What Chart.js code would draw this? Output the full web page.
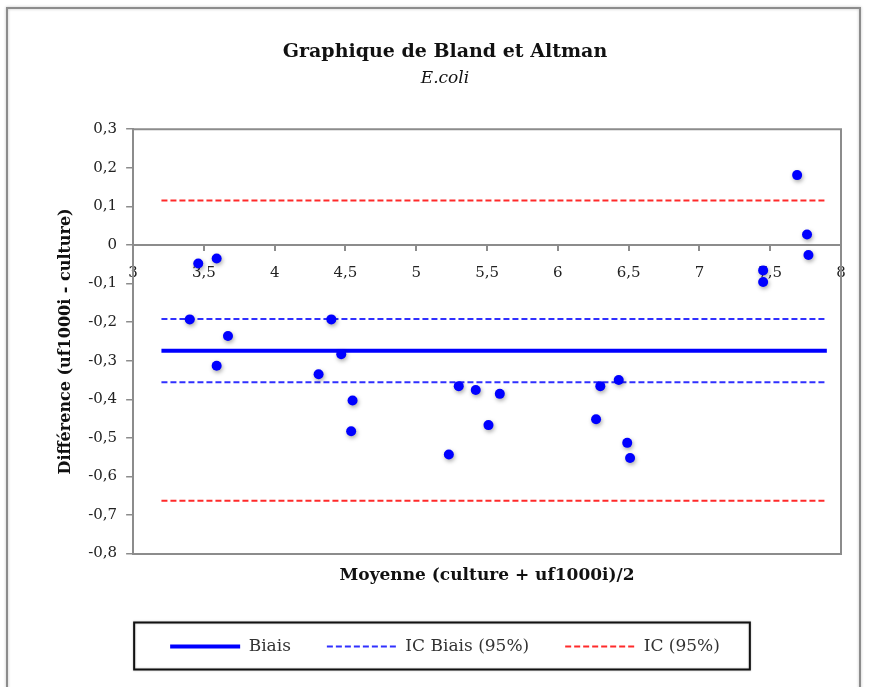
<!DOCTYPE html>
<html>
<head>
<meta charset="utf-8">
<script src="https://cdn.jsdelivr.net/npm/chart.js@4"></script>
<style>
  html, body { margin: 0; padding: 0; background: #fff; }
  canvas { display: block; }
</style>
</head>
<body>
<canvas id="c" width="869" height="687"></canvas>
<script>
// Mean of the two methods (x) and difference uf1000i - culture (y), log units
const xMeans = [3.46, 3.59, 3.40, 4.40, 3.67, 3.59, 4.31, 4.47, 4.55, 4.54,
                5.23, 5.30, 5.42, 5.51, 5.59, 6.30, 6.43, 6.27, 6.49, 6.51,
                7.69, 7.76, 7.77, 7.45, 7.45];
const yDiffs = [-0.048, -0.035, -0.193, -0.193, -0.236, -0.313, -0.335, -0.283, -0.403, -0.483,
                -0.543, -0.366, -0.376, -0.467, -0.386, -0.366, -0.350, -0.452, -0.513, -0.552,
                0.181, 0.027, -0.026, -0.066, -0.096];

// Reference lines
const lineSpan = [3.2, 7.9];
const biasValue = -0.274;
const biasCI = [-0.192, -0.356];
const agreementLimits = [0.115, -0.663];

// Axis ticks
const xTicks = [3, 3.5, 4, 4.5, 5, 5.5, 6, 6.5, 7, 7.5, 8];
const yTicks = [0.3, 0.2, 0.1, 0, -0.1, -0.2, -0.3, -0.4, -0.5, -0.6, -0.7, -0.8];

const serif = "'DejaVu Serif', 'Liberation Serif', serif";
const fmt = v => String(Math.round(v * 10) / 10).replace('.', ',');
const hLine = y => lineSpan.map(x => ({ x, y }));

const points = xMeans.map((x, i) => ({ x, y: yDiffs[i] }));

// White page with grey frame, plot frame, and the legend box outline
const framePlugin = {
  id: 'frame',
  beforeDraw(chart) {
    const ctx = chart.ctx;
    ctx.save();
    ctx.fillStyle = '#fff';
    ctx.fillRect(0, 0, chart.width, chart.height);
    ctx.shadowColor = 'rgba(0,0,0,0.25)';
    ctx.shadowBlur = 3;
    ctx.strokeStyle = '#8c8c8c';
    ctx.lineWidth = 2;
    ctx.strokeRect(7, 8, 853, 720);
    ctx.restore();
  },
  beforeDatasetsDraw(chart) {
    const { ctx, chartArea: a } = chart;
    ctx.save();
    ctx.strokeStyle = '#8c8c8c';
    ctx.lineWidth = 2;
    ctx.beginPath();
    ctx.moveTo(a.left, a.top);
    ctx.lineTo(a.right, a.top);
    ctx.lineTo(a.right, a.bottom);
    ctx.stroke();
    ctx.restore();
  },
  afterDraw(chart) {
    const lg = chart.legend;
    if (!lg || !lg.legendHitBoxes || !lg.legendHitBoxes.length) return;
    const hb = lg.legendHitBoxes;
    const first = hb[0], last = hb[hb.length - 1];
    const cy = first.top + first.height / 2;
    const left = first.left - 36, right = last.left + last.width + 30;
    const ctx = chart.ctx;
    ctx.save();
    ctx.shadowColor = 'rgba(0,0,0,0.3)';
    ctx.shadowBlur = 2;
    ctx.strokeStyle = '#111';
    ctx.lineWidth = 2;
    ctx.strokeRect(left, cy - 24, right - left, 47);
    ctx.restore();
  }
};

// Soft drop shadow under the scatter points
const shadowPlugin = {
  id: 'pointShadow',
  beforeDatasetDraw(chart, args) {
    if (args.index !== 0) return;
    const ctx = chart.ctx;
    ctx.save();
    ctx.shadowColor = 'rgba(0,0,0,0.35)';
    ctx.shadowBlur = 4;
    ctx.shadowOffsetX = 1;
    ctx.shadowOffsetY = 2;
  },
  afterDatasetDraw(chart, args) {
    if (args.index !== 0) return;
    chart.ctx.restore();
  }
};

// Legend entries drawn as line samples with each dataset's own stroke
const lineLegendItems = chart => chart.data.datasets
  .map((ds, i) => ({
    text: ds.label,
    datasetIndex: i,
    strokeStyle: ds.borderColor,
    fillStyle: ds.borderColor,
    fontColor: '#333',
    lineWidth: ds.borderWidth,
    lineDash: ds.borderDash || [],
    lineCap: 'butt',
    pointStyle: 'line',
    hidden: false
  }))
  .filter(item => item.datasetIndex >= 1 && item.datasetIndex <= 3);

const dash = [6, 3];

new Chart(document.getElementById('c'), {
  type: 'scatter',
  data: {
    datasets: [
      {
        data: points,
        backgroundColor: '#0000ff',
        borderWidth: 0,
        pointRadius: 5,
        pointHoverRadius: 5
      },
      {
        type: 'line',
        label: 'Biais',
        data: hLine(biasValue),
        borderColor: '#0000ff',
        borderWidth: 4,
        pointRadius: 0
      },
      {
        type: 'line',
        label: 'IC Biais (95%)',
        data: hLine(biasCI[0]),
        borderColor: '#3030ff',
        borderWidth: 2,
        borderDash: dash,
        pointRadius: 0
      },
      {
        type: 'line',
        label: 'IC (95%)',
        data: hLine(agreementLimits[0]),
        borderColor: '#ff2a2a',
        borderWidth: 2,
        borderDash: dash,
        pointRadius: 0
      },
      {
        type: 'line',
        label: 'IC Biais (95%)',
        data: hLine(biasCI[1]),
        borderColor: '#3030ff',
        borderWidth: 2,
        borderDash: dash,
        pointRadius: 0
      },
      {
        type: 'line',
        label: 'IC (95%)',
        data: hLine(agreementLimits[1]),
        borderColor: '#ff2a2a',
        borderWidth: 2,
        borderDash: dash,
        pointRadius: 0
      }
    ]
  },
  options: {
    responsive: false,
    devicePixelRatio: 1,
    animation: false,
    layout: { padding: { left: 49, right: 28, top: 10, bottom: 22 } },
    plugins: {
      title: {
        display: true,
        text: 'Graphique de Bland et Altman',
        color: '#111',
        font: { family: serif, size: 19, weight: 'bold' },
        padding: { top: 31, bottom: 5 }
      },
      subtitle: {
        display: true,
        text: 'E.coli',
        color: '#111',
        font: { family: serif, size: 17, style: 'italic' },
        padding: { top: 0, bottom: 40 }
      },
      legend: {
        display: true,
        position: 'bottom',
        labels: {
          usePointStyle: true,
          pointStyle: 'line',
          pointStyleWidth: 70,
          padding: 36,
          color: '#333',
          font: { family: serif, size: 17 },
          generateLabels: lineLegendItems
        }
      },
      tooltip: { enabled: false }
    },
    scales: {
      x: {
        type: 'linear',
        position: { y: 0 },
        min: 3,
        max: 8,
        afterFit: s => { s.height = 0; },
        afterBuildTicks: s => { s.ticks = xTicks.map(value => ({ value })); },
        ticks: {
          autoSkip: false,
          maxRotation: 0,
          padding: 14,
          color: '#222',
          font: { family: serif, size: 15 },
          callback: v => fmt(v)
        },
        grid: { drawOnChartArea: false, drawTicks: true, tickLength: 5, color: '#8c8c8c', lineWidth: 2 },
        border: { display: true, color: '#8c8c8c', width: 2 }
      },
      x2: {
        type: 'linear',
        position: 'bottom',
        min: 3,
        max: 8,
        ticks: { display: false },
        grid: { display: false, drawTicks: false },
        border: { display: true, color: '#8c8c8c', width: 2 },
        title: {
          display: true,
          text: 'Moyenne (culture + uf1000i)/2',
          color: '#111',
          font: { family: serif, size: 17, weight: 'bold' },
          padding: { top: 12, bottom: 16 }
        }
      },
      y: {
        type: 'linear',
        position: 'left',
        min: -0.8,
        max: 0.3,
        afterBuildTicks: s => { s.ticks = yTicks.map(value => ({ value })); },
        ticks: {
          autoSkip: false,
          padding: 9,
          color: '#222',
          font: { family: serif, size: 15 },
          callback: v => fmt(v)
        },
        grid: { drawOnChartArea: false, drawTicks: true, tickLength: 7, color: '#8c8c8c', lineWidth: 1.5 },
        border: { display: true, color: '#8c8c8c', width: 2 },
        title: {
          display: true,
          text: 'Différence (uf1000i - culture)',
          color: '#111',
          font: { family: serif, size: 16, weight: 'bold' },
          padding: { top: 7, bottom: 4 }
        }
      }
    }
  },
  plugins: [framePlugin, shadowPlugin]
});
</script>
</body>
</html>
